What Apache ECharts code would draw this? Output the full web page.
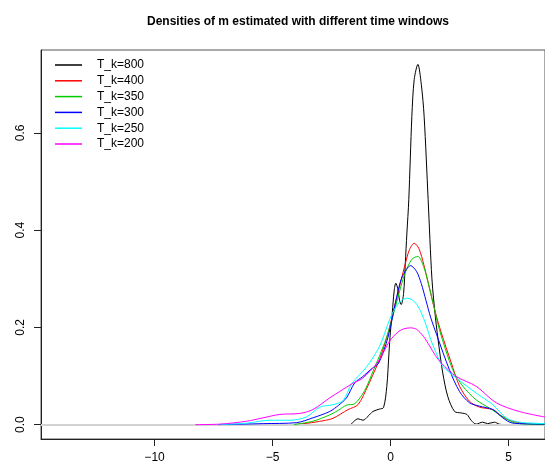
<!DOCTYPE html>
<html><head><meta charset="utf-8">
<script src="https://cdn.jsdelivr.net/npm/echarts@6/dist/echarts.min.js"></script>
<style>html,body{margin:0;padding:0;background:#fff}#c{width:545px;height:469px}</style>
</head><body><div id="c"></div>
<script>
const seriesNames = ['T_k=800', 'T_k=400', 'T_k=350', 'T_k=300', 'T_k=250', 'T_k=200'];
const seriesColors = ['#000000', '#ff0000', '#00cd00', '#0000ff', '#00ffff', '#ff00ff'];

const x800 = [-1.69,-1.38,-1.17,-0.96,-0.75,-0.47,-0.3,-0.16,-0.07,-0.01,0.07,0.15,0.22,0.3,0.38,0.45,0.55,0.62,0.69,0.77,0.9,1.0,1.155,1.3,1.42,1.59,1.75,1.9,2.05,2.21,2.42,2.71,2.99,3.23,3.41,3.62,3.9,4.11,4.4,4.6,4.8];
const y800 = [0,0.012,0.009,0.017,0.027,0.032,0.035,0.079,0.147,0.19,0.23,0.275,0.291,0.28,0.255,0.247,0.27,0.33,0.394,0.4625,0.634,0.71,0.741,0.70,0.634,0.4625,0.3,0.22,0.16,0.106,0.058,0.027,0.024,0.021,0.009,0.001,0.005,0.002,0.005,0.001,0];

const x400 = [-4.11,-3.5,-2.86,-2.44,-1.8,-1.38,-0.96,-0.7,-0.47,-0.11,0.2,0.45,0.59,0.8,1.0,1.2,1.4,1.6,1.9,2.14,2.57,2.92,3.34,3.76,4.33,4.61,5.03,5.73,6.6];
const y400 = [0,0.003,0.008,0.013,0.031,0.041,0.08,0.108,0.134,0.188,0.25,0.298,0.325,0.36,0.373,0.362,0.33,0.29,0.23,0.19,0.127,0.079,0.048,0.036,0.031,0.021,0.009,0.002,0.0];

const x350 = [-4.1,-3.29,-2.58,-2.2,-1.87,-1.52,-1.1,-0.7,-0.4,-0.11,0.3,0.6,0.9,1.155,1.4,1.6,1.8,2.07,2.63,3.06,3.62,4.19,4.75,5.31,6.6];
const y350 = [0,0.007,0.02,0.03,0.04,0.043,0.07,0.115,0.15,0.188,0.26,0.31,0.34,0.346,0.325,0.29,0.25,0.195,0.113,0.079,0.051,0.034,0.016,0.003,0.0];

const x300 = [-7.3,-6.3,-5.4,-3.99,-3.29,-2.58,-2.2,-1.87,-1.52,-1.2,-0.8,-0.5,-0.11,0.31,0.5,0.85,1.1,1.3,1.5,1.7,1.95,2.49,2.92,3.34,3.76,4.33,4.75,5.17,6.6];
const y300 = [0,0.001,0.002,0.004,0.014,0.027,0.04,0.055,0.086,0.098,0.115,0.127,0.18,0.274,0.305,0.327,0.315,0.29,0.255,0.22,0.185,0.113,0.068,0.045,0.038,0.031,0.014,0.003,0.001];

const x250 = [-7.3,-6.1,-5.12,-4.27,-3.56,-3.0,-2.44,-2.0,-1.65,-1.03,-0.47,-0.04,0.2,0.45,0.7,0.9,1.1,1.3,1.5,1.7,1.95,2.21,2.78,3.62,4.33,4.89,5.45,6.6];
const y250 = [0,0.003,0.009,0.009,0.016,0.036,0.041,0.05,0.084,0.118,0.161,0.216,0.24,0.255,0.26,0.257,0.248,0.23,0.205,0.175,0.145,0.12,0.096,0.065,0.041,0.014,0.005,0.002];

const x200 = [-8.27,-7.23,-6.1,-5.4,-4.69,-3.85,-3.29,-2.58,-2.16,-1.6,-1.2,-0.55,-0.04,0.3,0.55,0.85,1.1,1.4,1.65,1.9,2.14,2.78,3.62,4.47,5.45,6.6];
const y200 = [0,0.001,0.007,0.014,0.021,0.023,0.031,0.055,0.068,0.085,0.095,0.128,0.172,0.19,0.197,0.199,0.196,0.181,0.162,0.142,0.127,0.099,0.079,0.045,0.027,0.015];

const xTicks = [-10, -5, 0, 5];
const yTicks = [0, 0.2, 0.4, 0.6];

const xs = [x800, x400, x350, x300, x250, x200];
const ys = [y800, y400, y350, y300, y250, y200];

const font = 'Liberation Sans, Arial, Helvetica, sans-serif';
const chart = echarts.init(document.getElementById('c'), null, {renderer: 'canvas'});

const lineSeries = seriesNames.map((name, i) => ({
  name: name,
  type: 'line',
  data: xs[i].map((x, j) => [x, ys[i][j]]),
  symbol: 'none',
  showSymbol: false,
  smooth: 0.3,
  lineStyle: {color: seriesColors[i], width: 1},
  itemStyle: {color: seriesColors[i]},
  z: 3 + i
}));

const zeroSeries = {
  name: 'zero',
  type: 'line',
  data: [],
  symbol: 'none',
  z: 1,
  markLine: {
    silent: true,
    symbol: 'none',
    label: {show: false},
    lineStyle: {color: '#d3d3d3', width: 2, type: 'solid'},
    data: [{yAxis: 0}]
  }
};

chart.setOption({
  animation: false,
  backgroundColor: '#ffffff',
  title: {
    text: 'Densities of m estimated with different time windows',
    left: 293,
    textAlign: 'center',
    top: 11,
    textStyle: {fontFamily: font, fontSize: 12, fontWeight: 'bold', color: '#000'}
  },
  legend: {
    data: seriesNames,
    orient: 'vertical',
    left: 55,
    top: 58,
    padding: 0,
    icon: 'rect',
    itemWidth: 27,
    itemHeight: 1.5,
    itemGap: 1.8,
    textStyle: {fontFamily: font, fontSize: 12, color: '#000', lineHeight: 14, padding: [0, 0, 0, 10]}
  },
  grid: {
    left: 41, top: 50, right: -1, bottom: 30,
    show: true, borderColor: '#555', borderWidth: 1, backgroundColor: 'transparent'
  },
  xAxis: {
    type: 'value',
    min: -14.81, max: 6.54,
    axisLine: {show: true, onZero: false, lineStyle: {color: '#222', width: 1}},
    axisTick: {show: true, customValues: xTicks, length: 7, lineStyle: {color: '#222'}},
    axisLabel: {
      customValues: xTicks, margin: 13,
      fontFamily: font, fontSize: 12, color: '#000',
      formatter: v => (v < 0 ? '\u2212' + Math.abs(v) : String(v))
    },
    splitLine: {show: false}
  },
  yAxis: {
    type: 'value',
    min: -0.0296, max: 0.7706,
    axisLine: {show: true, onZero: false, lineStyle: {color: '#222', width: 1}},
    axisTick: {show: true, customValues: yTicks, length: 7, lineStyle: {color: '#222'}},
    axisLabel: {
      customValues: yTicks, rotate: 90, margin: 14,
      fontFamily: font, fontSize: 12, color: '#000',
      formatter: v => v.toFixed(1)
    },
    splitLine: {show: false}
  },
  series: [zeroSeries].concat(lineSeries)
});
</script>
</body></html>
